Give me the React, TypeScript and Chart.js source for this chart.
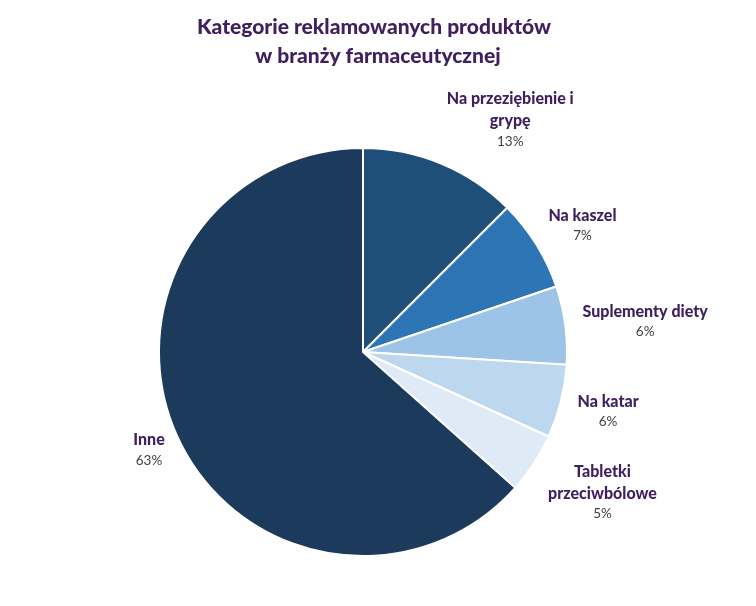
import React, { useEffect, useRef } from "react";
import { Chart, registerables } from "chart.js";

Chart.register(...registerables);

const titleLines = ["Kategorie reklamowanych produktów", "w branży farmaceutycznej"];
const categories: string[][] = [
  ["Na przeziębienie i", "grypę"],
  ["Na kaszel"],
  ["Suplementy diety"],
  ["Na katar"],
  ["Tabletki", "przeciwbólowe"],
  ["Inne"],
];
const values = [12.5, 7.3, 6.2, 5.8, 4.8, 63.4];
const colors = ["#1F4E79", "#2E75B6", "#9DC3E6", "#BDD7EE", "#DEEBF7", "#1B3A5C"];
// label layout nudges (pixels), not data
const labelNudge: [number, number][] = [
  [38, 3],
  [2, 2],
  [0, 2],
  [0, 1],
  [8, 2],
  [3, -1],
];

const FONT = "Lato, 'Open Sans', sans-serif";

const labelPlugin = {
  id: "customLabels",
  afterDraw(chart: any) {
    const ctx = chart.ctx;
    const meta = chart.getDatasetMeta(0);
    const total = values.reduce((a, b) => a + b, 0);
    ctx.save();
    // title
    ctx.fillStyle = "#3F1F5E";
    ctx.font = `900 21px ${FONT}`;
    ctx.textAlign = "center";
    ctx.textBaseline = "alphabetic";
    ctx.fillText(titleLines[0], 366, 26);
    ctx.fillText(titleLines[1], 370, 55);

    meta.data.forEach((arc: any, i: number) => {
      const { x, y, startAngle, endAngle, outerRadius } = arc.getProps(
        ["x", "y", "startAngle", "endAngle", "outerRadius"],
        true
      );
      const mid = (startAngle + endAngle) / 2;
      const dx = Math.cos(mid);
      const dy = Math.sin(mid);
      const rr = outerRadius + 18;
      const ax = x + dx * rr;
      const ay = y + dy * rr;
      const lines = categories[i];
      const pct = Math.round((values[i] / total) * 100) + "%";
      ctx.font = `900 16px ${FONT}`;
      let w = 0;
      lines.forEach((l) => (w = Math.max(w, ctx.measureText(l).width)));
      ctx.font = `13.5px ${FONT}`;
      w = Math.max(w, ctx.measureText(pct).width);
      const boldLH = 22;
      const pctLH = 20;
      const h = lines.length * boldLH + pctLH;
      const cx = ax + (dx * w) / 2 + labelNudge[i][0];
      const cy = ay + (dy * h) / 2 + labelNudge[i][1];
      let top = cy - h / 2;
      ctx.textAlign = "center";
      ctx.textBaseline = "middle";
      ctx.font = `900 16px ${FONT}`;
      ctx.fillStyle = "#3F1F5E";
      lines.forEach((l) => {
        ctx.fillText(l, cx, top + boldLH / 2);
        top += boldLH;
      });
      ctx.font = `13.5px ${FONT}`;
      ctx.fillStyle = "#404040";
      ctx.fillText(pct, cx, top + pctLH / 2 - 1);
    });
    ctx.restore();
  },
};

export default function App() {
  const ref = useRef<HTMLCanvasElement | null>(null);
  useEffect(() => {
    if (!ref.current) return;
    const chart = new Chart(ref.current, {
      type: "pie",
      data: {
        labels: categories.map((c) => c.join(" ")),
        datasets: [
          {
            data: values,
            backgroundColor: colors,
            borderColor: "#FFFFFF",
            borderWidth: 2,
          },
        ],
      },
      options: {
        animation: false,
        responsive: false,
        layout: { padding: { top: 139, bottom: 41, left: 150, right: 180 } },
        plugins: {
          legend: { display: false },
          tooltip: { enabled: false },
          title: { display: false },
        },
      },
      plugins: [labelPlugin],
    });
    return () => chart.destroy();
  }, []);
  return (
    <div style={{ width: 740, height: 590 }}>
      <canvas ref={ref} width={740} height={590} />
    </div>
  );
}
